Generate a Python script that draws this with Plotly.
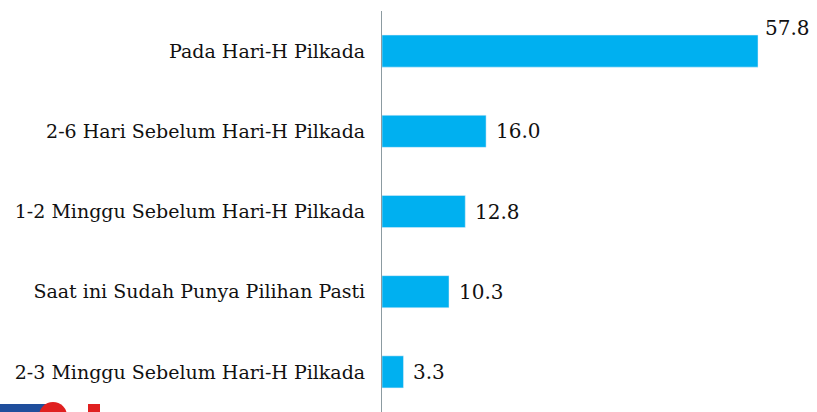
import plotly.graph_objects as go

categories = ["Pada Hari-H Pilkada", "2-6 Hari Sebelum Hari-H Pilkada",
              "1-2 Minggu Sebelum Hari-H Pilkada", "Saat ini Sudah Punya Pilihan Pasti",
              "2-3 Minggu Sebelum Hari-H Pilkada"]
values = [57.8, 16.0, 12.8, 10.3, 3.3]

W, H = 817, 412
L, T = 382, 11
PW, PH = W - L, H - T


def px(x):
    return (x - L) / PW


def py(y):
    return (H - y) / PH


fig = go.Figure(go.Bar(
    x=values, y=categories, orientation="h",
    marker=dict(color="#00B0F0"), width=0.4,
    hoverinfo="skip",
))

for i, (c, v) in enumerate(zip(categories, values)):
    fig.add_annotation(
        x=v, y=c, text=f"{v:.1f}", showarrow=False,
        xanchor="left", xshift=8 if i else 5, yshift=23 if i == 0 else 0,
        font=dict(family="DejaVu Serif", size=20, color="#111111"),
    )

# partial logo at bottom-left
fig.add_shape(type="rect", xref="paper", yref="paper", x0=px(0), x1=px(50), y0=py(414), y1=py(404),
              fillcolor="#1F4E9C", line=dict(width=0), layer="above")
fig.add_shape(type="circle", xref="paper", yref="paper", x0=px(39), x1=px(67), y0=py(430), y1=py(402),
              fillcolor="#E02020", line=dict(width=0), layer="above")
fig.add_shape(type="rect", xref="paper", yref="paper", x0=px(88), x1=px(100), y0=py(414), y1=py(404),
              fillcolor="#E02020", line=dict(width=0), layer="above")

fig.update_layout(
    width=W, height=H,
    margin=dict(l=L, r=0, t=T, b=0, autoexpand=False),
    plot_bgcolor="white", paper_bgcolor="white",
    showlegend=False,
    font=dict(family="DejaVu Serif", size=19, color="#111111"),
    xaxis=dict(range=[0, 66.87], visible=False, fixedrange=True),
    yaxis=dict(autorange="reversed", showline=True, linecolor="#8C9BA1", linewidth=1,
               ticks="", ticklen=0, showgrid=False, ticklabelstandoff=12, fixedrange=True,
               tickfont=dict(family="DejaVu Serif", size=19, color="#111111")),
)

fig.write_html("out.html", config={"displayModeBar": False},
               post_script="document.body.style.margin='0';document.body.style.overflow='hidden';")
